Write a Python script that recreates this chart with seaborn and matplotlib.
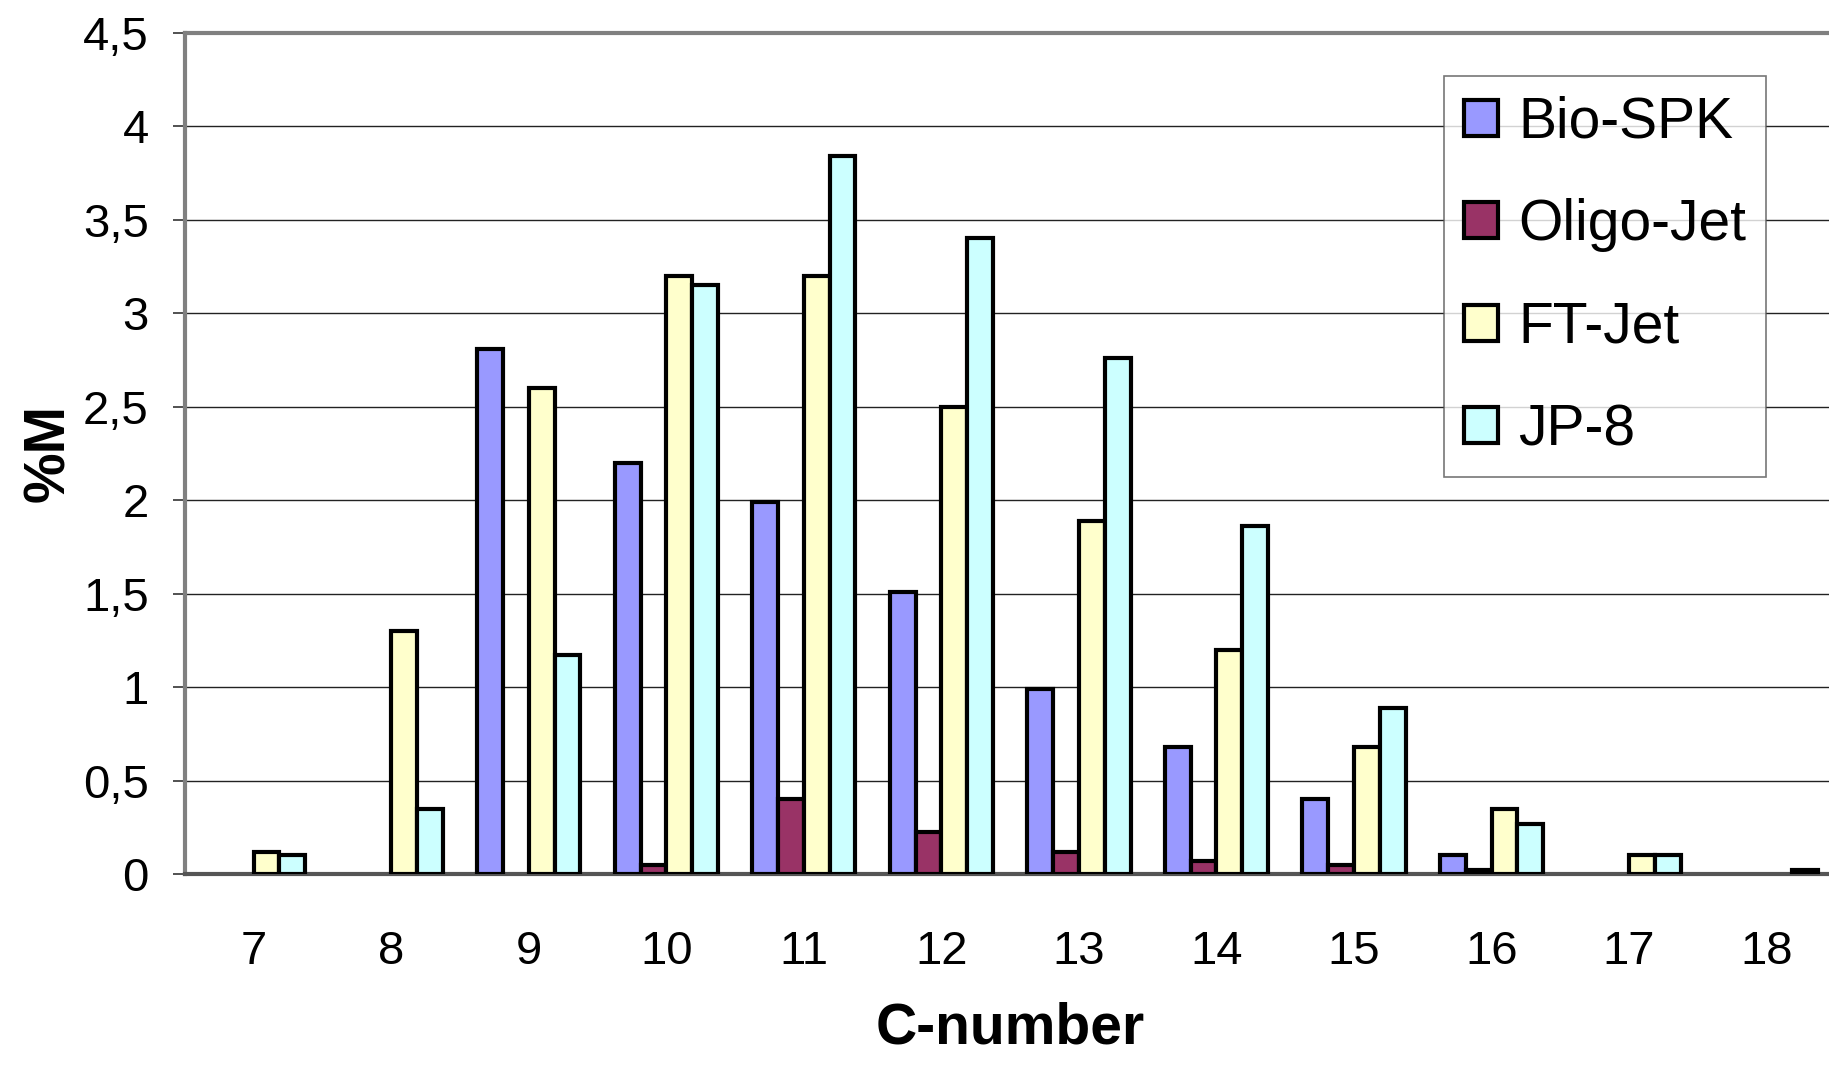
import numpy as np
import pandas as pd
import matplotlib
matplotlib.use("Agg")
import matplotlib.pyplot as plt
import seaborn as sns
from matplotlib.ticker import FixedLocator

# data
c_numbers = ["7", "8", "9", "10", "11", "12", "13", "14", "15", "16", "17", "18"]
bio_spk = [np.nan, np.nan, 2.81, 2.2, 1.99, 1.51, 0.99, 0.68, 0.40, 0.10, np.nan, np.nan]
oligo_jet = [np.nan, np.nan, np.nan, 0.05, 0.40, 0.225, 0.12, 0.07, 0.05, 0.02, np.nan, np.nan]
ft_jet = [0.12, 1.30, 2.60, 3.20, 3.20, 2.50, 1.89, 1.20, 0.68, 0.35, 0.10, np.nan]
jp_8 = [0.10, 0.35, 1.17, 3.15, 3.84, 3.40, 2.76, 1.86, 0.89, 0.27, 0.10, 0.02]

series = ["Bio-SPK", "Oligo-Jet", "FT-Jet", "JP-8"]
colors = ["#9999FF", "#993366", "#FFFFCC", "#CCFFFF"]
y_ticks = [0, 0.5, 1, 1.5, 2, 2.5, 3, 3.5, 4, 4.5]
y_labels = ["0", "0,5", "1", "1,5", "2", "2,5", "3", "3,5", "4", "4,5"]

df = pd.DataFrame({"C": c_numbers * 4,
                   "fuel": np.repeat(series, len(c_numbers)),
                   "value": bio_spk + oligo_jet + ft_jet + jp_8})
df = df.dropna()

sns.set_style("white")
plt.rcParams["font.family"] = ["Liberation Sans", "DejaVu Sans"]
plt.rcParams["text.color"] = "black"
plt.rcParams["axes.labelcolor"] = "black"
plt.rcParams["xtick.color"] = "black"
plt.rcParams["ytick.color"] = "black"

fig = plt.figure(figsize=(18.29, 10.82), dpi=100)
ax = fig.add_axes([0.1011, 0.1922, 0.9024, 0.7776])

sns.barplot(data=df, x="C", y="value", hue="fuel", order=c_numbers,
            hue_order=series, palette=colors, saturation=1, width=0.75,
            edgecolor="black", linewidth=3, errorbar=None, ax=ax, zorder=3)

ax.set_xlim(-0.5, 11.5)
ax.set_ylim(0, 4.5)
ax.set_yticks(y_ticks)
ax.set_yticklabels(y_labels)
ax.grid(axis="y", color="#222222", linewidth=1.0, zorder=0)
ax.set_axisbelow(True)

# category labels centred, tick marks at the boundaries
ax.xaxis.set_minor_locator(FixedLocator(np.arange(-0.5, 12, 1)))
ax.tick_params(axis="x", which="major", length=0, pad=40, labelsize=34)
ax.tick_params(axis="x", which="minor", length=11, width=1.2, color="#333333", direction="out")
ax.tick_params(axis="y", which="major", length=9, width=1.2, color="#333333",
               direction="out", pad=17, labelsize=34, left=True)

for side in ["left", "top"]:
    ax.spines[side].set_color("#808080")
    ax.spines[side].set_linewidth(3)
ax.spines["bottom"].set_color("#555555")
ax.spines["bottom"].set_linewidth(3)
ax.spines["right"].set_visible(False)

ax.set_xlabel("C-number", fontsize=41, fontweight="bold", labelpad=20)
ax.set_ylabel("%M", fontsize=41, fontweight="bold", labelpad=5)

handles, labels = ax.get_legend_handles_labels()
leg = ax.legend(handles, labels, loc="upper left", bbox_to_anchor=(0.7895, 0.9298),
                bbox_transform=fig.transFigure, borderaxespad=0, fontsize=41,
                frameon=True, fancybox=False, edgecolor="#555555",
                handlelength=0.6, handleheight=0.6, handletextpad=0.35,
                labelspacing=0.85, borderpad=0.35, title=None)
leg.get_frame().set_linewidth(1.2)

fig.savefig("out.png", dpi=100)
